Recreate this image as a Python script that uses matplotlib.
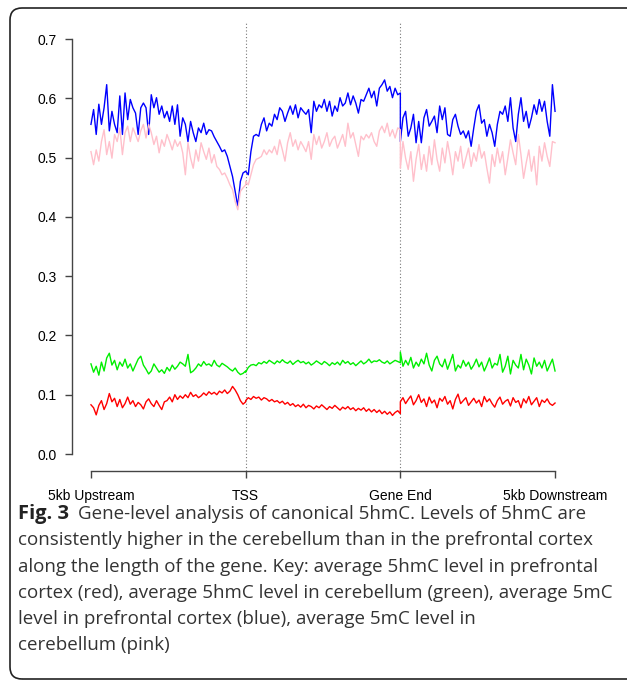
import numpy as np
import matplotlib
matplotlib.use("Agg")
import matplotlib.pyplot as plt
from matplotlib.patches import FancyBboxPatch
from matplotlib.transforms import IdentityTransform

# values in thousandths, 60 bins per region (upstream, gene body, downstream)
blue_up = [556, 581, 539, 590, 556, 584, 623, 545, 578, 556,
           542, 604, 539, 609, 564, 598, 584, 575, 539, 584,
           592, 584, 539, 606, 584, 601, 573, 587, 567, 578,
           561, 587, 556, 589, 536, 567, 556, 527, 561, 542,
           527, 550, 542, 558, 539, 547, 545, 535, 527, 519,
           510, 513, 502, 485, 468, 443, 418, 460, 474, 477]
blue_body = [477, 471, 510, 536, 539, 536, 556, 567, 545, 558,
             553, 573, 564, 584, 578, 561, 575, 587, 573, 589,
             567, 584, 578, 573, 581, 542, 595, 578, 589, 584,
             598, 578, 595, 570, 587, 578, 601, 587, 592, 609,
             589, 604, 592, 575, 598, 595, 606, 617, 601, 612,
             587, 617, 623, 631, 612, 620, 601, 617, 606, 609]
blue_down = [527, 567, 578, 536, 550, 573, 525, 561, 525, 567,
             581, 553, 561, 570, 542, 587, 564, 584, 539, 536,
             564, 573, 553, 539, 545, 533, 545, 519, 550, 578,
             589, 558, 564, 536, 556, 542, 519, 556, 578, 573,
             587, 561, 601, 550, 527, 573, 601, 561, 578, 550,
             567, 589, 573, 598, 578, 595, 561, 536, 623, 578]

pink_up = [510, 488, 513, 494, 527, 547, 505, 527, 499, 539,
           527, 550, 505, 542, 553, 527, 550, 539, 527, 545,
           556, 533, 556, 542, 522, 536, 508, 530, 519, 539,
           527, 513, 530, 519, 527, 508, 471, 525, 499, 482,
           513, 494, 525, 510, 497, 516, 491, 505, 485, 480,
           471, 474, 465, 454, 446, 426, 412, 443, 449, 454]
pink_body = [460, 454, 471, 488, 497, 499, 502, 513, 505, 513,
             508, 519, 505, 530, 513, 494, 525, 542, 519, 530,
             513, 527, 519, 510, 527, 497, 539, 522, 536, 516,
             527, 542, 519, 530, 536, 516, 527, 539, 519, 558,
             533, 542, 522, 502, 536, 530, 539, 533, 542, 527,
             519, 545, 553, 542, 558, 536, 547, 533, 550, 547]
pink_down = [482, 527, 499, 480, 510, 460, 497, 522, 480, 505,
             477, 519, 488, 530, 497, 477, 516, 491, 527, 502,
             471, 510, 494, 519, 482, 499, 516, 485, 508, 494,
             522, 499, 510, 482, 457, 505, 485, 516, 491, 510,
             471, 499, 530, 508, 488, 539, 505, 465, 491, 513,
             477, 502, 454, 519, 494, 525, 502, 485, 527, 525]

green_up = [152, 138, 148, 133, 155, 140, 162, 170, 150, 158,
            142, 155, 148, 160, 145, 152, 140, 150, 160, 165,
            150, 143, 135, 140, 152, 145, 138, 142, 136, 146,
            140, 150, 143, 148, 155, 152, 148, 168, 137, 140,
            145, 152, 148, 156, 150, 152, 148, 158, 150, 147,
            153, 150, 147, 143, 140, 145, 138, 134, 136, 140]
green_body = [138, 146, 150, 151, 149, 154, 152, 156, 153, 158,
              155, 152, 157, 154, 159, 155, 153, 157, 151, 155,
              158, 154, 156, 152, 155, 150, 153, 157, 154, 151,
              156, 153, 149, 154, 151, 155, 150, 158, 153, 156,
              151, 154, 149, 153, 157, 152, 155, 160, 154, 157,
              156, 159, 155, 153, 157, 152, 155, 158, 156, 154]
green_down = [172, 148, 158, 150, 163, 145, 155, 148, 160, 152,
              170, 150, 140, 158, 165, 152, 147, 160, 143, 155,
              168, 140, 150, 145, 158, 148, 155, 143, 150, 160,
              147, 155, 140, 150, 162, 145, 153, 150, 168, 138,
              148, 165, 135, 158, 150, 145, 168, 142, 160, 150,
              135, 162, 148, 155, 145, 158, 140, 150, 160, 140]

red_up = [83, 78, 66, 82, 90, 75, 85, 102, 88, 94,
          80, 92, 78, 85, 96, 84, 90, 80, 87, 83,
          76, 88, 93, 85, 80, 90, 82, 75, 88, 90,
          96, 88, 100, 92, 98, 94, 100, 95, 104, 97,
          100, 95, 98, 103, 99, 105, 101, 104, 100, 106,
          103, 108, 102, 106, 114, 108, 100, 90, 84, 88]
red_body = [90, 95, 92, 97, 94, 96, 91, 95, 93, 89,
            92, 88, 90, 86, 89, 84, 87, 82, 85, 80,
            83, 79, 84, 78, 82, 80, 76, 81, 78, 83,
            79, 75, 80, 77, 82, 78, 74, 79, 76, 80,
            75, 78, 73, 77, 74, 78, 72, 76, 71, 75,
            70, 74, 68, 72, 67, 71, 65, 70, 73, 68]
red_down = [88, 95, 85, 92, 98, 83, 90, 100, 87, 93,
            80, 96, 86, 91, 78, 94, 89, 97, 84, 90,
            76, 92, 101, 85, 90, 95, 82, 88, 94, 86,
            91, 80, 97, 88, 93, 85, 79, 90, 96, 84,
            89, 92, 81, 95, 87, 90, 78, 93, 86, 97,
            83, 89, 95, 80, 91, 87, 93, 85, 82, 86]

region_labels = ["5kb Upstream", "TSS", "Gene End", "5kb Downstream"]
y_ticks = [0.0, 0.1, 0.2, 0.3, 0.4, 0.5, 0.6, 0.7]

caption_bold = "Fig. 3"
caption_lines = [
    "Gene-level analysis of canonical 5hmC. Levels of 5hmC are",
    "consistently higher in the cerebellum than in the prefrontal cortex",
    "along the length of the gene. Key: average 5hmC level in prefrontal",
    "cortex (red), average 5hmC level in cerebellum (green), average 5mC",
    "level in prefrontal cortex (blue), average 5mC level in",
    "cerebellum (pink)",
]


def series(up, body, down):
    n = len(up)
    x = np.concatenate([np.linspace(0, 1, n), np.linspace(1, 2, n), np.linspace(2, 3, n)])
    y = np.array(up + body + down) / 1000.0
    return x, y


def main():
    W, H = 627, 681
    fig = plt.figure(figsize=(W / 100, H / 100), dpi=100)
    ax = fig.add_axes([72.4 / W, 1 - 470.6 / H, 501.2 / W, 448.2 / H])

    for up, body, down, col in [(red_up, red_body, red_down, "#ff0000"),
                                (green_up, green_body, green_down, "#00ee00"),
                                (blue_up, blue_body, blue_down, "#0000ff"),
                                (pink_up, pink_body, pink_down, "#ffc0cb")]:
        x, y = series(up, body, down)
        ax.plot(x, y, color=col, lw=1.0)

    for xv in (1, 2):
        ax.axvline(xv, color="#777777", lw=0.8, ls=(0, (1, 2)), zorder=0)

    ax.set_xlim(-0.12, 3.12)
    ax.set_ylim(-0.028, 0.728)
    for s in ("top", "right"):
        ax.spines[s].set_visible(False)
    ax.spines["left"].set_bounds(0, 0.7)
    ax.spines["bottom"].set_bounds(0, 3)
    for s in ("left", "bottom"):
        ax.spines[s].set_color("#444444")
        ax.spines[s].set_linewidth(1.0)
    ax.set_xticks(range(4))
    ax.set_xticklabels(region_labels)
    ax.set_yticks(y_ticks)
    ax.set_yticklabels([f"{v:.1f}" for v in y_ticks])
    ax.tick_params(axis="both", length=5, width=1.0, color="#444444",
                   labelsize=10, labelcolor="black")
    ax.tick_params(axis="x", pad=8)
    ax.tick_params(axis="y", pad=6)
    for lab in ax.get_xticklabels() + ax.get_yticklabels():
        lab.set_family("Liberation Sans")

    # caption
    cap_font = "Open Sans"
    fs = 13.5
    x0 = 18 / W
    y_first = 1 - 514 / H
    step = 26.3 / H
    bold = fig.text(x0, y_first, caption_bold, fontsize=14.5, family=cap_font,
                    weight="bold", va="center", ha="left", color="#222222")
    r = fig.canvas.get_renderer()
    bb = bold.get_window_extent(renderer=r)
    fig.text((bb.x1 + 9) / W, y_first, caption_lines[0], fontsize=fs, family=cap_font,
             va="center", ha="left", color="#333333")
    for i, line in enumerate(caption_lines[1:], start=1):
        fig.text(x0, y_first - i * step, line, fontsize=fs, family=cap_font,
                 va="center", ha="left", color="#333333")

    box = FancyBboxPatch((10, 2), 700, 671, boxstyle="round,pad=0,rounding_size=12",
                         transform=IdentityTransform(), fill=False,
                         edgecolor="#222222", lw=1.2)
    fig.add_artist(box)

    fig.savefig("out.png", dpi=100)
    plt.close(fig)


if __name__ == "__main__":
    main()
